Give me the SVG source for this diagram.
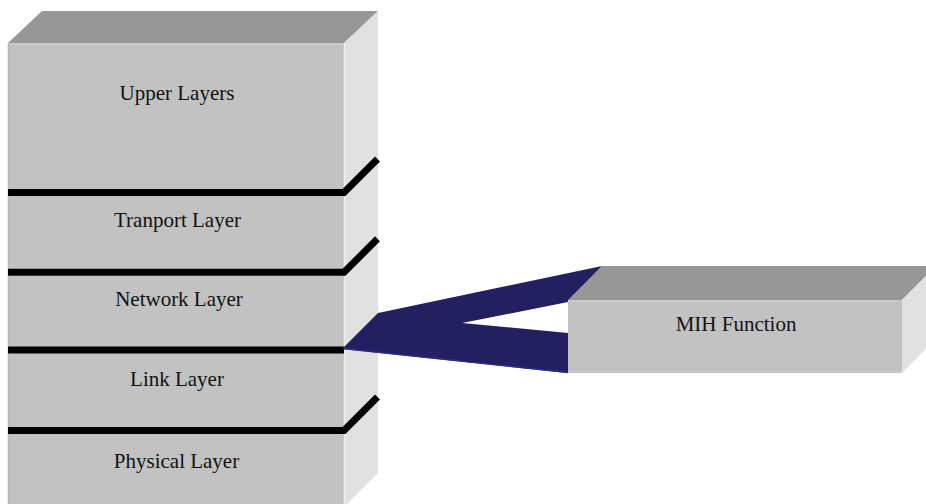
<svg xmlns="http://www.w3.org/2000/svg" width="926" height="504" viewBox="0 0 926 504">
  <style>
    .front { fill: #c2c2c2; }
    .top { fill: #979797; }
    .side { fill: #e1e1e1; }
    .bevel { stroke: #cdcdcd; stroke-width: 1.5; fill: none; }
    .edge { stroke: #efefef; stroke-width: 1.5; fill: none; }
    .label { font-family: "Liberation Serif", "Times New Roman", serif; font-size: 21px; fill: #111; text-anchor: middle; }
    .sep { stroke: #000; stroke-width: 7; fill: none; stroke-linejoin: miter; }
    .link { fill: #222060; }
  </style>
  <rect width="926" height="504" fill="#ffffff"/>

  <!-- protocol stack -->
  <g id="upper-layers">
    <polygon class="top" points="8,43 42,11 378,11 344,43"/>
    <rect class="front" x="8" y="43" width="336" height="149"/>
    <polygon class="side" points="344,43 378,11 378,158 344,192"/>
    <line class="bevel" x1="8" y1="44" x2="344" y2="44"/>
    <text class="label" x="177" y="100">Upper Layers</text>
  </g>
  <g id="transport-layer">
    <rect class="front" x="8" y="192" width="336" height="80"/>
    <polygon class="side" points="344,192 378,158 378,238 344,272"/>
    <text class="label" x="177.5" y="227">Tranport Layer</text>
  </g>
  <g id="network-layer">
    <rect class="front" x="8" y="272" width="336" height="78"/>
    <polygon class="side" points="344,272 378,238 378,316 344,350"/>
    <text class="label" x="179" y="306">Network Layer</text>
  </g>
  <g id="link-layer">
    <rect class="front" x="8" y="350" width="336" height="80"/>
    <polygon class="side" points="344,350 378,316 378,396 344,430"/>
    <text class="label" x="177" y="386">Link Layer</text>
  </g>
  <g id="physical-layer">
    <rect class="front" x="8" y="430" width="336" height="80"/>
    <polygon class="side" points="344,430 378,396 378,473 344,507"/>
    <text class="label" x="176.5" y="468">Physical Layer</text>
  </g>
  <g id="stack-edges">
    <line class="edge" x1="344.5" y1="43" x2="344.5" y2="504"/>
    <line x1="8.5" y1="43" x2="8.5" y2="504" stroke="#b6b6b6" stroke-width="1.5"/>
    <path class="sep" d="M8 192.5 H344 L377.5 159"/>
    <path class="sep" d="M8 272.3 H344 L377.5 238.8"/>
    <path class="sep" d="M8 350 H344"/>
    <path class="sep" d="M8 430.5 H344 L377.5 397"/>
  </g>

  <!-- connectors -->
  <g id="connectors">
    <polygon class="link" points="342,349 378,313 602,266 568,302 462,323 568,333 568,373"/>
    <line x1="343" y1="348.5" x2="568" y2="372.5" stroke="#2c2c88" stroke-width="1.5"/>
  </g>

  <!-- MIH function block -->
  <g id="mih-function">
    <polygon class="top" points="568,300 602,266 936,266 902,300"/>
    <rect class="front" x="568" y="300" width="334" height="73"/>
    <polygon class="side" points="902,300 936,266 936,339 902,373"/>
    <line class="bevel" x1="568" y1="301" x2="902" y2="301"/>
    <line class="bevel" x1="568" y1="372" x2="902" y2="372"/>
    <text class="label" x="736" y="331">MIH Function</text>
  </g>
</svg>
